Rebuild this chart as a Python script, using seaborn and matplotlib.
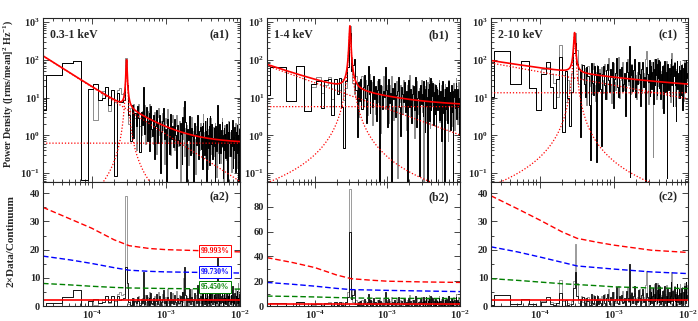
import numpy as np
import pandas as pd
import seaborn as sns
import matplotlib.pyplot as plt
from matplotlib.ticker import LogLocator, NullFormatter, MultipleLocator, FixedLocator

bands = ["0.3-1 keV", "1-4 keV", "2-10 keV"]
top_tags = ["(a1)", "(b1)", "(c1)"]
bot_tags = ["(a2)", "(b2)", "(c2)"]

# continuum + QPO model (power law + constant + lorentzian)
pl_norm = [19.1, 24.6, 48.0]       # at 1e-4 Hz
pl_index = [1.25, 0.69, 0.356]
const_level = [0.62, 5.75, 13.4]
qpo_freq = [2.95e-4, 3.05e-4, 2.95e-4]
qpo_peak = [95.0, 780.0, 480.0]
qpo_width = [0.0078, 0.0096, 0.011]  # half width, decades

# 2 x data / continuum, black and grey spectra
# low: 40 bins of 1.6e-5 Hz; high: 50 bins up to 3e-3 Hz, 70 bins up to 1e-2 Hz
ratio_black_a_lo = [0.05, 1.0, 3.3, 5.6, 0.005, 1.6, 2.6, 1.2, 1.5, 3.4,
                    1.3, 3.6, 0.02, 3.5, 2.2, 2.4, 2.9, 14, 8, 1.4,
                    0.3, 2.8, 0.4, 1.9, 0.9, 3.1, 1.6, 0.2, 2.4, 1.1,
                    12, 0.7, 2.1, 3.8, 0.5, 1.7, 2.9, 0.3, 4.6, 1.2]
ratio_black_a_hi = [0.8, 2.9, 0.2, 1.6, 4.4, 0.6, 2.1, 3.5, 0.1, 1.3,
                    2.6, 5.8, 0.9, 1.7, 0.05, 3.2, 2.0, 0.4, 4.9, 1.1,
                    2.4, 0.7, 3.8, 1.5, 0.2, 2.8, 1.2, 0.9, 3.4, 1.8,
                    0.3, 5.1, 2.2, 14, 4.0, 0.1, 2.7, 1.4, 6.2, 0.6,
                    3.1, 1.9, 0.08, 4.5, 2.3, 1.2, 7.4, 0.5, 2.9, 3.6,
                    1.0, 4.1, 0.3, 4.8, 2.1, 0.7, 5.5, 1.6, 3.0, 0.15,
                    6.8, 2.4, 1.1, 4.2, 0.4, 7.9, 2.6, 1.5, 5.0, 3.3,
                    0.6, 2.2, 3.9, 1.3, 0.04, 4.6, 2.8, 1.0, 17, 3.4,
                    1.7, 0.5, 5.2, 2.5, 0.9, 3.7, 6.0, 1.4, 0.2, 2.7,
                    4.3, 1.1, 3.0, 0.7, 5.6, 2.0, 0.12, 3.5, 1.8, 6.5,
                    2.3, 0.8, 4.0, 1.5, 3.2, 7.1, 0.4, 2.6, 1.2, 4.7,
                    0.3, 3.6, 2.1, 5.3, 1.0, 2.9, 0.06, 4.4, 1.7, 3.1]
ratio_grey_a_lo = [0.05, 1.0, 3.3, 5.6, 0.005, 1.6, 0.3, 1.2, 2.4, 3.4,
                   0.9, 3.6, 1.8, 4.2, 5.0, 3.9, 4.4, 39, 6.5, 0.8,
                   2.2, 0.5, 3.0, 1.4, 0.2, 2.5, 3.6, 1.0, 0.6, 2.7,
                   1.8, 4.0, 0.4, 1.5, 3.2, 0.9, 2.2, 5.1, 0.7, 1.9]
ratio_grey_a_hi = [2.2, 0.5, 3.7, 1.2, 0.3, 2.9, 5.0, 1.0, 2.4, 0.7,
                   4.1, 1.5, 0.2, 3.3, 2.6, 6.1, 0.9, 1.8, 0.4, 3.0,
                   4.6, 1.2, 0.6, 2.5, 5.3, 1.7, 0.8, 3.9, 0.1, 2.3,
                   4.8, 1.4, 9.8, 0.5, 2.8, 3.5, 1.1, 0.3, 4.3, 2.0,
                   5.9, 0.7, 2.6, 1.6, 0.2, 3.8, 6.4, 1.3, 0.9, 4.7,
                   2.1, 0.4, 3.2, 8.5, 1.7, 2.9, 0.6, 4.4, 1.0, 5.6,
                   2.5, 0.3, 3.6, 6.9, 1.4, 2.2, 7.2, 0.8, 4.9, 3.1,
                   1.9, 4.2, 0.7, 2.8, 5.4, 1.1, 3.3, 0.2, 2.4, 6.3,
                   0.9, 3.0, 1.6, 4.5, 0.5, 2.7, 7.7, 1.3, 3.8, 0.1,
                   2.2, 5.1, 1.0, 3.4, 0.6, 4.8, 2.5, 1.5, 6.7, 0.8,
                   3.5, 1.2, 2.9, 0.3, 5.7, 2.0, 4.1, 1.1, 0.7, 3.6,
                   6.0, 1.8, 0.4, 3.1, 2.4, 8.2, 1.4, 4.6, 2.7, 5.2]
ratio_black_b_lo = [0.25, 2.2, 0.35, 3.4, 0.25, 1.5, 1.9, 0.4, 2.3, 2.6,
                    0.3, 2.9, 1.2, 3.4, 0.6, 0.05, 3.0, 7.5, 60, 6,
                    9, 13, 2, 0.12, 3.5, 1.1, 4.2, 0.7, 2.6, 5.5,
                    1.4, 0.3, 3.1, 10, 1.9, 0.6, 4.5, 2.2, 0.9, 6.1]
ratio_black_b_hi = [1.5, 3.2, 0.4, 2.6, 5.1, 1.0, 0.008, 3.8, 2.2, 0.9,
                    2.7, 1.9, 11.5, 2.9, 0.3, 6.0, 1.4, 2.5, 0.01, 3.6,
                    1.8, 4.9, 0.6, 2.3, 3.1, 7.2, 1.2, 0.2, 4.0, 2.7,
                    1.6, 5.6, 0.9, 3.3, 0.006, 2.1, 6.5, 1.3, 3.9, 0.5,
                    2.8, 4.6, 1.1, 8.1, 0.4, 2.4, 3.5, 0.02, 5.3, 1.7,
                    3.0, 0.8, 6.9, 2.2, 4.1, 0.3, 1.5, 7.6, 2.6, 0.007,
                    4.3, 1.9, 5.8, 0.6, 3.4, 8.4, 1.2, 2.9, 6.3, 4.5,
                    0.5, 2.0, 3.7, 1.0, 5.9, 0.015, 2.4, 4.4, 1.3, 3.1,
                    6.6, 0.7, 2.5, 4.0, 1.6, 0.2, 3.6, 7.4, 1.1, 2.8,
                    0.009, 4.7, 2.1, 1.4, 5.5, 3.2, 0.6, 2.3, 8.0, 1.8,
                    3.9, 0.4, 2.6, 6.1, 1.2, 4.2, 0.012, 3.0, 5.0, 1.5,
                    2.2, 7.0, 0.8, 3.5, 4.8, 1.7, 2.9, 0.3, 6.4, 3.8]
ratio_grey_b_lo = [0.25, 2.2, 0.35, 3.4, 0.25, 1.2, 2.5, 1.0, 1.7, 3.0,
                   0.8, 2.1, 2.4, 1.6, 3.2, 0.9, 2.0, 11, 94, 14,
                   3, 1.5, 4.8, 2.1, 0.4, 3.7, 1.8, 5.0, 0.9, 2.5,
                   4.3, 1.2, 0.5, 3.6, 6.2, 1.0, 2.4, 4.0, 0.3, 2.8]
ratio_grey_b_hi = [3.0, 0.6, 2.1, 4.7, 1.3, 2.8, 5.4, 0.2, 3.5, 1.7,
                   6.6, 2.4, 0.9, 3.9, 1.5, 0.4, 4.2, 2.6, 7.0, 1.1,
                   0.5, 3.3, 2.0, 5.7, 0.015, 2.9, 1.6, 4.5, 3.7, 0.8,
                   6.1, 1.9, 2.7, 0.3, 4.8, 1.2, 3.1, 9.0, 0.7, 2.3,
                   5.0, 1.4, 0.2, 3.6, 6.4, 2.0, 0.9, 4.4, 2.5, 7.3,
                   1.0, 3.8, 0.01, 2.2, 5.2, 3.0, 1.3, 4.9, 0.6, 6.7,
                   2.7, 1.8, 8.8, 3.2, 0.4, 5.5, 2.1, 7.1, 1.6, 4.0,
                   0.9, 3.4, 6.0, 1.2, 2.6, 0.3, 5.1, 2.0, 4.3, 1.5,
                   7.8, 0.6, 2.9, 3.7, 1.0, 5.8, 0.008, 2.4, 4.6, 1.9,
                   3.3, 6.2, 0.7, 2.1, 4.9, 1.4, 3.6, 0.2, 8.3, 2.5,
                   1.1, 4.1, 2.8, 0.5, 5.6, 3.0, 1.7, 6.9, 0.4, 3.5,
                   2.3, 9.5, 1.2, 4.4, 0.6, 3.9, 7.5, 2.0, 5.3, 9.1]
ratio_black_c_lo = [0.2, 4.0, 0.6, 2.6, 0.55, 0.15, 1.4, 3.1, 0.7, 0.2,
                    1.2, 4.5, 0.05, 2.1, 0.4, 0.075, 0.6, 6.5, 12, 3.5,
                    2.6, 0.04, 2.4, 3.3, 1.1, 0.5, 3.0, 1.8, 0.3, 0.011,
                    4.1, 1.2, 0.6, 3.4, 2.0, 0.01, 1.5, 3.6, 0.8, 2.3]
ratio_black_c_hi = [0.9, 0.027, 2.3, 3.8, 1.2, 0.5, 2.9, 4.4, 1.6, 0.8,
                    3.3, 2.0, 5.1, 0.3, 1.8, 2.6, 6.7, 1.1, 0.6, 3.5,
                    2.2, 4.0, 0.9, 1.4, 2.8, 0.2, 5.4, 3.0, 1.7, 15,
                    0.005, 2.5, 4.7, 1.0, 3.6, 7.0, 0.7, 2.1, 1.5, 5.8,
                    2.9, 0.4, 3.9, 6.2, 1.3, 2.4, 0.004, 4.6, 3.1, 1.9,
                    7.3, 0.8, 2.7, 5.0, 1.2, 3.4, 6.5, 0.5, 2.2, 4.3,
                    1.6, 8.0, 3.0, 0.9, 5.7, 2.5, 7.6, 1.4, 4.1, 6.6,
                    0.7, 3.2, 1.9, 5.3, 2.6, 0.3, 4.5, 7.2, 1.1, 2.8,
                    3.7, 0.006, 6.1, 2.0, 1.3, 4.9, 0.9, 3.5, 8.4, 1.7,
                    2.4, 5.5, 0.5, 3.0, 6.9, 1.8, 4.2, 0.2, 2.7, 7.7,
                    1.4, 3.8, 5.9, 0.8, 2.3, 4.6, 1.0, 6.3, 3.3, 0.4,
                    5.1, 2.1, 7.0, 3.6, 1.2, 8.6, 2.9, 4.0, 0.7, 6.2]
ratio_grey_c_lo = [0.2, 4.0, 0.6, 2.6, 0.55, 0.15, 1.9, 2.2, 1.5, 0.9,
                   0.4, 9.3, 1.6, 0.3, 1.2, 0.6, 1.9, 9, 22, 8,
                   1.0, 0.5, 3.6, 1.4, 2.8, 0.9, 0.3, 3.2, 2.1, 1.0,
                   0.6, 2.9, 4.0, 1.1, 0.4, 2.5, 3.8, 0.9, 1.7, 3.0]
ratio_grey_c_hi = [2.1, 3.5, 0.7, 1.6, 4.2, 2.8, 0.5, 1.9, 6.1, 3.0,
                   1.2, 0.4, 2.6, 4.8, 1.5, 0.9, 3.7, 2.3, 7.0, 0.6,
                   1.8, 3.2, 5.5, 1.0, 2.5, 0.3, 4.1, 6.8, 1.4, 2.9,
                   3.8, 0.8, 5.0, 2.0, 1.1, 4.5, 2.7, 0.6, 3.3, 1.7,
                   6.0, 2.4, 0.9, 4.7, 3.1, 1.3, 7.5, 12.5, 2.2, 0.5,
                   5.3, 3.6, 1.8, 4.0, 6.3, 2.6, 0.02, 1.0, 3.9, 7.8,
                   2.0, 5.1, 0.7, 3.4, 8.2, 1.5, 4.4, 6.0, 2.8, 7.1,
                   1.2, 3.9, 2.5, 0.4, 5.6, 3.1, 6.6, 1.7, 4.3, 2.2,
                   7.4, 0.9, 3.5, 5.0, 1.4, 2.7, 6.2, 0.6, 4.1, 12,
                   2.3, 5.8, 1.1, 3.7, 7.0, 0.5, 2.9, 4.8, 1.6, 6.4,
                   3.2, 0.8, 5.4, 2.1, 7.9, 3.6, 1.3, 4.5, 6.7, 2.6,
                   0.7, 4.9, 8.1, 3.0, 1.9, 5.7, 2.4, 7.3, 3.8, 6.9]
ratio_black = [ratio_black_a_lo + ratio_black_a_hi,
               ratio_black_b_lo + ratio_black_b_hi,
               ratio_black_c_lo + ratio_black_c_hi]
ratio_grey = [ratio_grey_a_lo + ratio_grey_a_hi,
              ratio_grey_b_lo + ratio_grey_b_hi,
              ratio_grey_c_lo + ratio_grey_c_hi]

# significance curves in the lower panels
sig_freq = [2.2e-5, 5e-5, 1e-4, 2e-4, 3.2e-4, 6e-4, 1e-3, 3.2e-3, 1e-2]
sig_red = [[35, 31, 27.6, 23.5, 21.4, 20.4, 20.0, 19.6, 19.2],
           [39, 35, 31, 25, 22, 20.8, 20, 19.4, 19],
           [39.1, 34.5, 30.5, 26.3, 24, 22.6, 21.6, 19.8, 19.0]]
sig_blue = [[17.7, 16.4, 15.1, 13.6, 12.7, 12.3, 12.1, 11.9, 11.7],
            [19, 17.5, 16, 14.2, 13.2, 12.9, 12.6, 12.1, 11.6],
            [21, 19.2, 17.4, 15.5, 14.2, 13.6, 13.1, 12.1, 11.5]]
sig_green = [[8.0, 7.5, 7.0, 6.6, 6.4, 6.3, 6.2, 6.1, 6.0],
             [8, 7.7, 7.3, 6.8, 6.5, 6.3, 6.2, 6.1, 6.0],
             [9.7, 9.1, 8.5, 7.9, 7.6, 7.2, 6.8, 6.4, 6.2]]
sig_names = ["99.993%", "99.730%", "95.450%"]
sig_label_y = [19.6, 12.2, 6.7]
ratio_top = [44, 100, 44]
ratio_ticks = [[0, 10, 20, 30, 40], [0, 20, 40, 60, 80], [0, 10, 20, 30, 40]]

# frequency bins
f_lo = 1.6e-5 * np.arange(1, 41)
edges_hi = np.concatenate([np.geomspace(6.48e-4, 3e-3, 51),
                           np.geomspace(3e-3, 1.02e-2, 71)[1:]])
f_hi = np.sqrt(edges_hi[:-1] * edges_hi[1:])
freq = np.concatenate([f_lo, f_hi])
f_model = np.geomspace(2.2e-5, 1e-2, 3000)


def powerlaw(i, f):
    return pl_norm[i] * (f / 1e-4) ** (-pl_index[i])


def continuum(i, f):
    return powerlaw(i, f) + const_level[i]


def lorentz(i, f):
    return qpo_peak[i] / (1 + (np.log10(f / qpo_freq[i]) / qpo_width[i]) ** 2)


sns.set_theme(style="ticks")
plt.rcParams["font.family"] = ["Liberation Serif", "DejaVu Serif"]
plt.rcParams["font.weight"] = "bold"
plt.rcParams["mathtext.fontset"] = "custom"
plt.rcParams["mathtext.rm"] = "Liberation Serif:bold"
plt.rcParams["mathtext.bf"] = "Liberation Serif:bold"
plt.rcParams["mathtext.it"] = "Liberation Serif:italic:bold"
plt.rcParams["mathtext.default"] = "bf"
plt.rcParams["axes.linewidth"] = 0.8

fig = plt.figure(figsize=(6.98, 3.21), dpi=100)
lefts = [43 / 698, 267 / 698, 491 / 698]
widths = [197 / 698, 193 / 698, 197 / 698]

for i in range(3):
    ax1 = fig.add_axes([lefts[i], 139 / 321, widths[i], 164 / 321])
    ax2 = fig.add_axes([lefts[i], 15 / 321, widths[i], 124 / 321])

    blk = np.array(ratio_black[i])
    gry = np.array(ratio_grey[i])
    cont = continuum(i, freq)

    # upper panel: power spectra and model
    sns.lineplot(x=freq, y=gry * cont / 2, ax=ax1, color="0.55", lw=0.7,
                 drawstyle="steps-mid", estimator=None, sort=False)
    sns.lineplot(x=freq, y=blk * cont / 2, ax=ax1, color="black", lw=0.7,
                 drawstyle="steps-mid", estimator=None, sort=False)
    for comp in [powerlaw(i, f_model), lorentz(i, f_model),
                 np.full_like(f_model, const_level[i])]:
        sns.lineplot(x=f_model, y=comp, ax=ax1, color="red", lw=0.9,
                     linestyle=(0, (1, 1.5)), estimator=None, sort=False)
    total = continuum(i, f_model) + lorentz(i, f_model)
    sns.lineplot(x=f_model, y=total, ax=ax1, color="red", lw=1.2,
                 estimator=None, sort=False)

    ax1.set_xscale("log")
    ax1.set_yscale("log")
    ax1.set_xlim(2.2e-5, 1e-2)
    ax1.set_ylim(0.058, 1280)
    ax1.yaxis.set_major_locator(LogLocator(base=10, numticks=10))
    ax1.yaxis.set_minor_locator(LogLocator(base=10, subs=np.arange(2, 10), numticks=20))
    ax1.yaxis.set_minor_formatter(NullFormatter())
    ax1.xaxis.set_minor_locator(LogLocator(base=10, subs=np.arange(2, 10), numticks=20))
    ax1.set_xticklabels([])
    ax1.xaxis.set_minor_formatter(NullFormatter())
    ax1.text(0.036, 0.895, bands[i], transform=ax1.transAxes, fontsize=8.5,
             fontweight="bold", va="center", ha="left")
    ax1.text(0.945, 0.895, top_tags[i], transform=ax1.transAxes, fontsize=8.5,
             fontweight="bold", va="center", ha="right")

    # lower panel: 2 x data / continuum
    sns.lineplot(x=freq, y=gry, ax=ax2, color="0.55", lw=0.6,
                 drawstyle="steps-mid", estimator=None, sort=False)
    sns.lineplot(x=freq, y=blk, ax=ax2, color="black", lw=0.6,
                 drawstyle="steps-mid", estimator=None, sort=False)
    for vals, col in [(sig_red[i], "red"), (sig_blue[i], "blue"), (sig_green[i], "green")]:
        sns.lineplot(x=sig_freq, y=vals, ax=ax2, color=col, lw=1.0,
                     linestyle=(0, (4, 2)), estimator=None, sort=False)
    ax2.axhline(2, color="red", lw=1.2)

    ax2.set_xscale("log")
    ax2.set_xlim(2.2e-5, 1e-2)
    ax2.set_ylim(0, ratio_top[i])
    ax2.yaxis.set_major_locator(FixedLocator(ratio_ticks[i]))
    ax2.yaxis.set_minor_locator(MultipleLocator(ratio_ticks[i][1] / 2))
    ax2.xaxis.set_minor_locator(LogLocator(base=10, subs=np.arange(2, 10), numticks=20))
    ax2.xaxis.set_minor_formatter(NullFormatter())
    ax2.text(0.945, 0.88, bot_tags[i], transform=ax2.transAxes, fontsize=8.5,
             fontweight="bold", va="center", ha="right")

    if i == 0:
        for name, yv, col in zip(sig_names, sig_label_y, ["red", "blue", "green"]):
            ax2.text(4.6e-3, yv, name, color=col, fontsize=5.5, fontweight="bold",
                     ha="center", va="center",
                     bbox=dict(boxstyle="square,pad=0.25", fc="white", ec=col, lw=0.7))
        ax1.set_ylabel("Power Density ([rms/mean]$^2$ Hz$^{-1}$)", fontsize=7.2, fontweight="bold")
        ax1.yaxis.set_label_coords(-0.14, 0.54)
        ax2.set_ylabel("2\u00d7Data/Continuum", fontsize=8, fontweight="bold")
        ax2.yaxis.set_label_coords(-0.14, 0.52)

    for ax in (ax1, ax2):
        ax.tick_params(which="both", direction="in", top=True, right=True,
                       labelsize=7.5, width=0.6, pad=2)
        ax.tick_params(which="major", length=4)
        ax.tick_params(which="minor", length=2)
        for lab in ax.get_xticklabels() + ax.get_yticklabels():
            lab.set_fontweight("bold")

fig.savefig("out.png", dpi=100)
